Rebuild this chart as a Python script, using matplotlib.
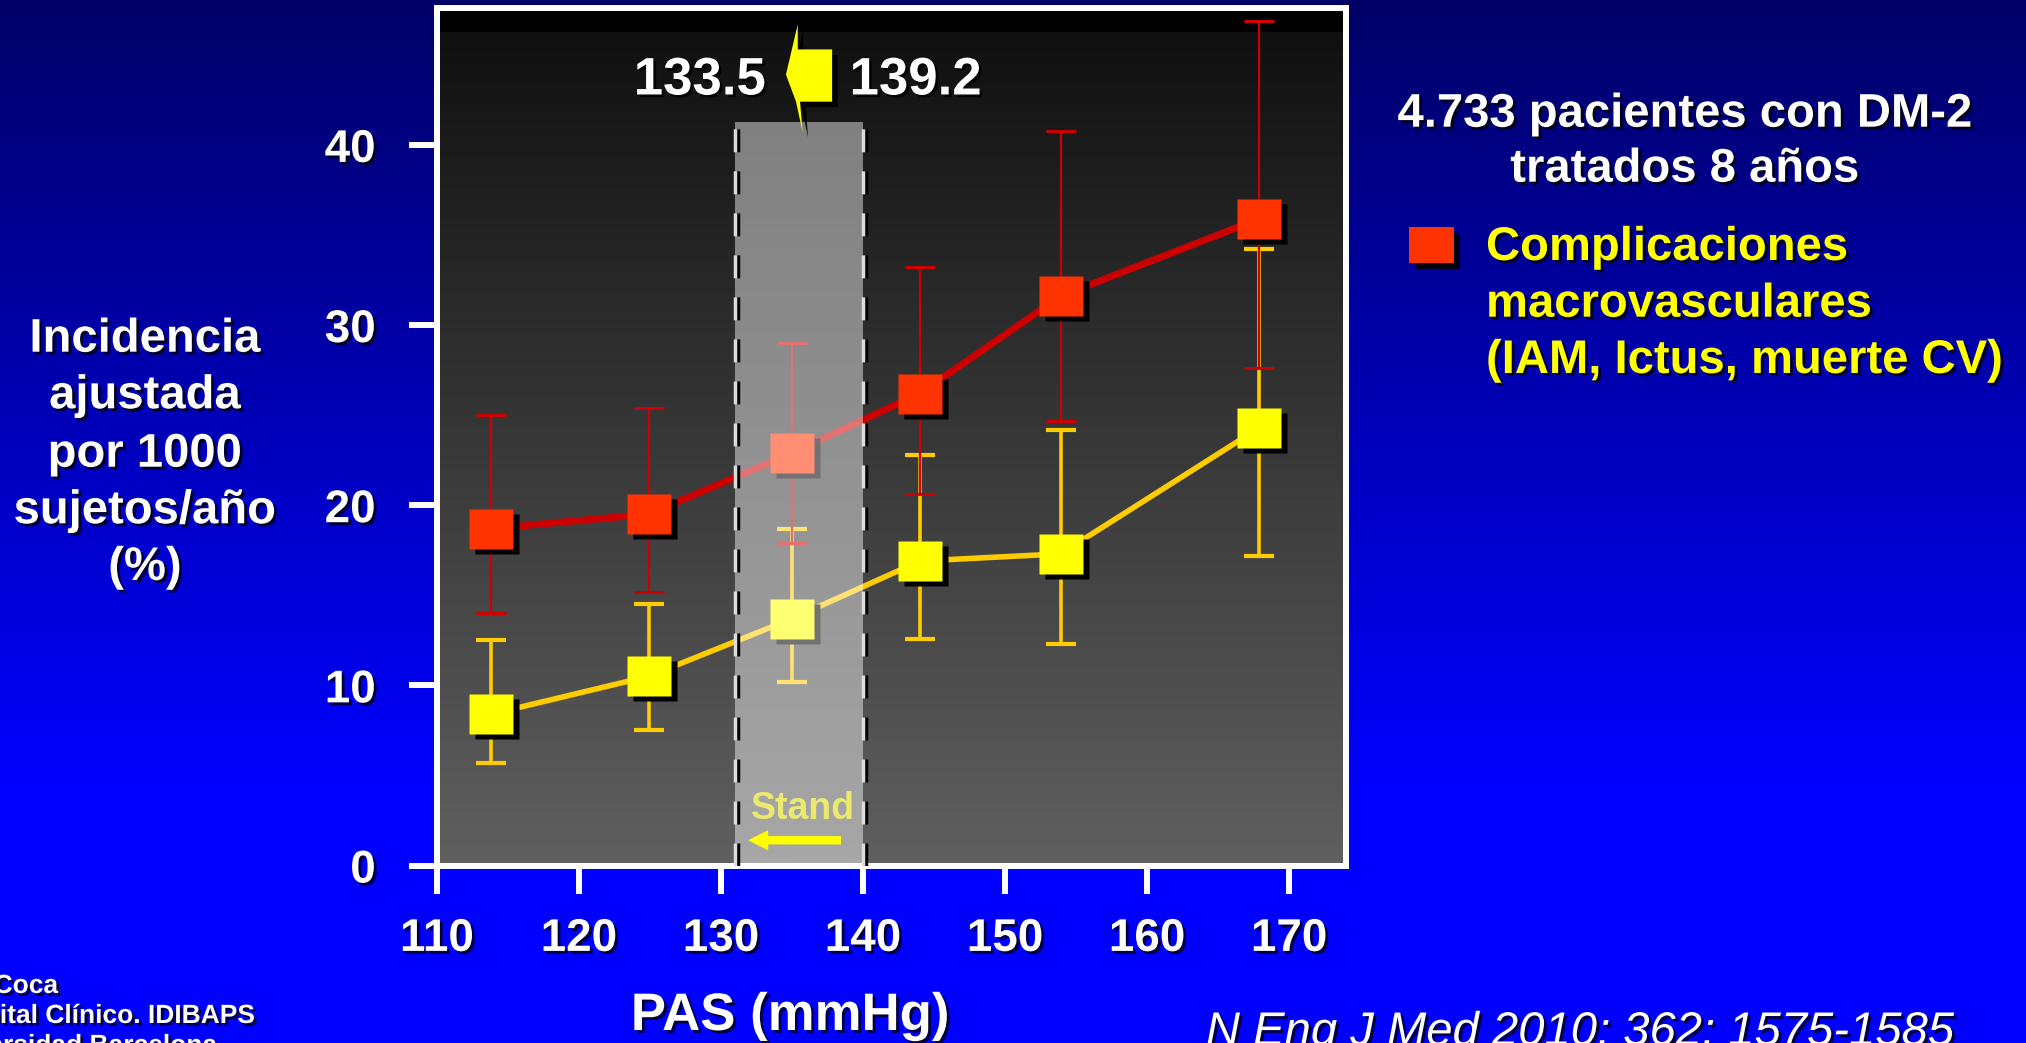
import numpy as np
import matplotlib
matplotlib.use('Agg')
import matplotlib.pyplot as plt
import matplotlib.patheffects as pe
from matplotlib.patches import Polygon, Rectangle, FancyArrowPatch
from matplotlib.transforms import offset_copy

# PAS (mmHg) de cada grupo
pas = [113.8, 124.9, 135.0, 144.0, 153.9, 167.9]

# complicaciones macrovasculares (rojo) con su intervalo
macro = [18.7, 19.5, 22.9, 26.2, 31.6, 35.9]
macro_hi = [25.0, 25.4, 29.0, 33.2, 40.8, 46.9]
macro_lo = [14.0, 15.2, 17.9, 20.6, 24.7, 27.6]

# serie amarilla con su intervalo
amar = [8.4, 10.5, 13.7, 16.9, 17.3, 24.3]
amar_hi = [12.5, 14.5, 18.7, 22.8, 24.2, 34.2]
amar_lo = [5.7, 7.5, 10.2, 12.6, 12.3, 17.2]

xticks = [110, 120, 130, 140, 150, 160, 170]
yticks = [0, 10, 20, 30, 40]

# zona del tratamiento estandar
band = [131, 140]
band_top = 41.25
lim_txt = ['133.5', '139.2']

plt.rcParams['font.family'] = 'Liberation Sans'
plt.rcParams['font.weight'] = 'bold'

W, H = 2026, 1043
fig = plt.figure(figsize=(W / 100, H / 100), dpi=100)


def fy(y):
    return 1 - y / H


def fx(x):
    return x / W


shadow = [pe.withSimplePatchShadow(offset=(2, -2), shadow_rgbFace='black', alpha=0.75)]

# fondo azul degradado
bg = fig.add_axes([0, 0, 1, 1], zorder=-10)
blue = np.clip(0.40 + 0.60 * np.linspace(0, 1, H) / 0.755, 0, 1)
img = np.zeros((H, 1, 3))
img[:, 0, 2] = blue
bg.imshow(img, aspect='auto', extent=[0, 1, 0, 1])
bg.axis('off')

# grafico
ax = fig.add_axes([fx(437), fy(865.5), (1346 - 437) / W, (865.5 - 8) / H])
py = np.linspace(8, 865.5, 860)
lev = np.where(py < 32, 0.0, 0.063 + 0.313 * (py - 32) / (865.5 - 32))
ax.imshow(np.repeat(lev[:, None, None], 3, axis=2), aspect='auto',
          extent=[110, 174, 0, 47.6], zorder=0)

sq = [(-1.12, -1), (1.12, -1), (1.12, 1), (-1.12, 1), (-1.12, -1)]
sh = offset_copy(ax.transData, fig=fig, x=6, y=-5, units='dots')


def serie(y, lo, hi, line_c, mark_c, lw, elw, cth, z):
    y = np.array(y)
    err = [y - np.array(lo), np.array(hi) - y]
    ax.errorbar(pas, y, yerr=err, fmt='none', ecolor=line_c, elinewidth=elw,
                capsize=11, capthick=cth, zorder=z)
    ax.plot(pas, y, color=line_c, lw=lw, zorder=z + 0.1)
    ax.plot(pas, y, ls='none', marker=sq, ms=32, mfc='black', mec='none',
            transform=sh, zorder=z + 0.2)
    ax.plot(pas, y, ls='none', marker=sq, ms=32, mfc=mark_c, mec='none', zorder=z + 0.3)


serie(amar, amar_lo, amar_hi, '#ffcc00', '#ffff00', 4, 2.6, 3, 2)
serie(macro, macro_lo, macro_hi, '#cc0000', '#ff3300', 5, 1.6, 2.2, 3)

# banda gris semitransparente
ax.fill_between(band, 0, band_top, color='white', alpha=0.45, lw=0, zorder=5)
dsh = offset_copy(ax.transData, fig=fig, x=3, y=0, units='dots')
ax.vlines(band, 0, band_top, colors='black', lw=2.5, linestyles=(0, (6.6, 5.5)),
          transform=dsh, zorder=6)
ax.vlines(band, 0, band_top, colors='#dcdcdc', lw=2.5, linestyles=(0, (6.6, 5.5)), zorder=6.1)

# flecha tipo rayo
rayo = [(135.40, 46.7), (135.40, 45.3), (137.82, 45.3), (137.82, 42.4), (135.56, 42.4),
        (135.74, 40.7), (135.28, 42.4), (134.57, 43.9)]
ax.add_patch(Polygon(rayo, closed=True, fc='#ffff00', ec='none', zorder=7,
                     path_effects=[pe.SimplePatchShadow(offset=(4, -4), shadow_rgbFace='black', alpha=0.9),
                                   pe.Normal()]))
ax.text(128.5, 42.8, lim_txt[0], color='white', fontsize=38, ha='center', va='baseline',
        zorder=7, path_effects=shadow)
ax.text(143.7, 42.8, lim_txt[1], color='white', fontsize=38, ha='center', va='baseline',
        zorder=7, path_effects=shadow)

ax.text(135.8, 2.57, 'Stand', color='#ecea6e', fontsize=27, ha='center', va='baseline', zorder=7)
ax.add_patch(FancyArrowPatch((138.4, 1.4), (132.0, 1.4),
                             arrowstyle='simple,head_length=13,head_width=13,tail_width=5',
                             mutation_scale=1, color='#ffff00', shrinkA=0, shrinkB=0, zorder=7))

ax.set_xlim(110, 174)
ax.set_ylim(0, 47.6)
ax.set_xticks(xticks)
ax.set_yticks(yticks)
ax.tick_params(colors='white', labelcolor='white', length=20, width=4.3,
               direction='out', labelsize=33)
ax.tick_params(axis='x', pad=17)
ax.tick_params(axis='y', pad=24)
for s in ax.spines.values():
    s.set_color('white')
    s.set_linewidth(4.3)
for lab in ax.get_xticklabels() + ax.get_yticklabels():
    lab.set_path_effects(shadow)

# titulo del eje y
ylab = ['Incidencia', 'ajustada', 'por 1000', 'sujetos/año', '(%)']
for txt, yb in zip(ylab, [351.7, 408.3, 466.7, 523.3, 580]):
    fig.text(fx(145), fy(yb), txt, color='white', fontsize=34, ha='center', va='baseline',
             path_effects=shadow)

fig.text(fx(790), fy(1030), 'PAS (mmHg)', color='white', fontsize=38, ha='center',
         va='baseline', path_effects=shadow)

# texto de la derecha
for txt, yb in zip(['4.733 pacientes con DM-2', 'tratados 8 años'], [126.7, 181.7]):
    fig.text(fx(1685), fy(yb), txt, color='white', fontsize=34, ha='center', va='baseline',
             path_effects=shadow)

fig.add_artist(Rectangle((fx(1409), fy(263)), 45 / W, 36 / H, transform=fig.transFigure,
                         fc='#ff3300', ec='none',
                         path_effects=[pe.SimplePatchShadow(offset=(4, -4), shadow_rgbFace='black', alpha=0.9),
                                       pe.Normal()]))
leg = ['Complicaciones', 'macrovasculares', '(IAM, Ictus, muerte CV)']
for txt, yb in zip(leg, [260, 316.7, 373]):
    fig.text(fx(1486), fy(yb), txt, color='#ffff00', fontsize=34, ha='left', va='baseline',
             path_effects=shadow)

# pie (cortado en el borde como en la diapositiva)
pie = [('A. Coca', 58, 993), ('Hospital Clínico. IDIBAPS', 255, 1023),
       ('Universidad Barcelona', 217, 1053)]
for txt, xr, yb in pie:
    fig.text(fx(xr), fy(yb), txt, color='white', fontsize=19, ha='right', va='baseline',
             path_effects=shadow)

fig.text(fx(1954), fy(1045), 'N Eng J Med 2010; 362: 1575-1585', color='white',
         fontsize=34, style='italic', weight='normal', ha='right', va='baseline',
         path_effects=shadow)

fig.savefig('out.png', dpi=100)
